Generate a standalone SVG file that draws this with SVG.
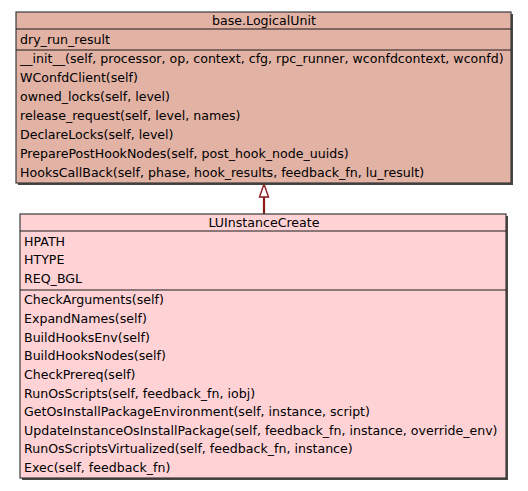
<svg xmlns="http://www.w3.org/2000/svg" width="528" height="491" viewBox="0 0 528 491">
<style>
.t{font-family:"DejaVu Sans",sans-serif;font-size:12.6px;fill:#000}
.box{stroke:#3a3a3a;stroke-width:1.2}
.sep{stroke:#1a1a1a;stroke-width:1.2}
.shadow{fill:#4d4444}
</style>
<rect width="528" height="491" fill="#fefefe"/>
<g id="connectors">
<line x1="264" y1="214" x2="264" y2="197" stroke="#8b1a1a" stroke-width="2.2"/>
<polygon points="264,184 259.5,197 268.5,197" fill="#fefefe" stroke="#8b1a1a" stroke-width="1.4"/>
</g>
<g id="base_LogicalUnit">
<rect class="shadow" x="18" y="14" width="495" height="171"/>
<rect class="box" x="16" y="12" width="495" height="171" fill="#e2b3a5"/>
<line class="sep" x1="16" y1="29" x2="511" y2="29"/>
<line class="sep" x1="16" y1="50" x2="511" y2="50"/>
<text class="t" x="264" y="25" text-anchor="middle">base.LogicalUnit</text>
<text class="t" x="20" y="43.5">dry_run_result</text>
<text class="t" x="20" y="63">__init__(self, processor, op, context, cfg, rpc_runner, wconfdcontext, wconfd)</text>
<text class="t" x="20" y="82">WConfdClient(self)</text>
<text class="t" x="20" y="101">owned_locks(self, level)</text>
<text class="t" x="20" y="120">release_request(self, level, names)</text>
<text class="t" x="20" y="139">DeclareLocks(self, level)</text>
<text class="t" x="20" y="158">PreparePostHookNodes(self, post_hook_node_uuids)</text>
<text class="t" x="20" y="177">HooksCallBack(self, phase, hook_results, feedback_fn, lu_result)</text>
</g>
<g id="LUInstanceCreate">
<rect class="shadow" x="22" y="216" width="486" height="264"/>
<rect class="box" x="20" y="214" width="486" height="264" fill="#ffd3d6"/>
<line class="sep" x1="20" y1="231" x2="506" y2="231"/>
<line class="sep" x1="20" y1="290" x2="506" y2="290"/>
<text class="t" x="264" y="227" text-anchor="middle">LUInstanceCreate</text>
<text class="t" x="24" y="245.5">HPATH</text>
<text class="t" x="24" y="264">HTYPE</text>
<text class="t" x="24" y="283">REQ_BGL</text>
<text class="t" x="24" y="304">CheckArguments(self)</text>
<text class="t" x="24" y="323">ExpandNames(self)</text>
<text class="t" x="24" y="341.5">BuildHooksEnv(self)</text>
<text class="t" x="24" y="360">BuildHooksNodes(self)</text>
<text class="t" x="24" y="379">CheckPrereq(self)</text>
<text class="t" x="24" y="397.5">RunOsScripts(self, feedback_fn, iobj)</text>
<text class="t" x="24" y="416">GetOsInstallPackageEnvironment(self, instance, script)</text>
<text class="t" x="24" y="434.5">UpdateInstanceOsInstallPackage(self, feedback_fn, instance, override_env)</text>
<text class="t" x="24" y="453">RunOsScriptsVirtualized(self, feedback_fn, instance)</text>
<text class="t" x="24" y="471.5">Exec(self, feedback_fn)</text>
</g>
</svg>
